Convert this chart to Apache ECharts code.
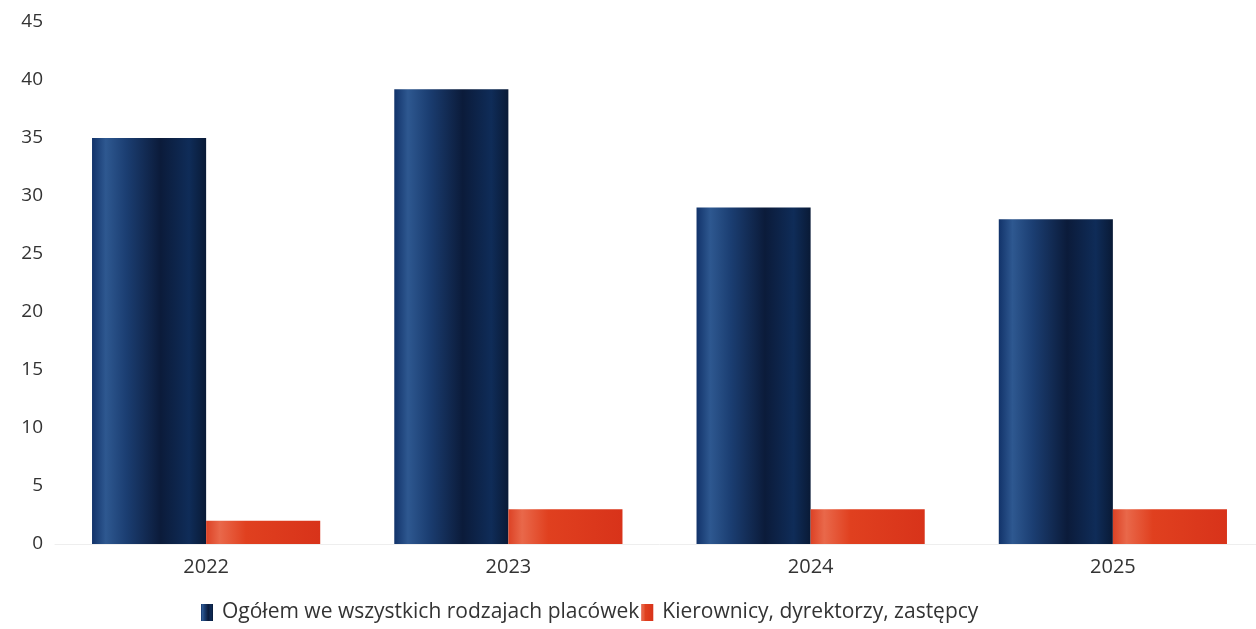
<!DOCTYPE html>
<html><head><meta charset="utf-8">
<script src="https://cdn.jsdelivr.net/npm/echarts@6/dist/echarts.min.js"></script>
<style>html,body{margin:0;padding:0;background:#fff;overflow:hidden}#c{width:1272px;height:629px}</style>
</head><body><div id="c"></div>
<script>
const categories = ['2022', '2023', '2024', '2025'];
const totalName = 'Ogółem we wszystkich rodzajach placówek';
const totalValues = [35, 39.2, 29, 28];
const managersName = 'Kierownicy, dyrektorzy, zastępcy';
const managersValues = [2, 3, 3, 3];
const yTicks = [0, 5, 10, 15, 20, 25, 30, 35, 40, 45];

const blue = new echarts.graphic.LinearGradient(0, 0, 1, 0, [
  {offset: 0, color: '#12336a'},
  {offset: 0.12, color: '#2e5890'},
  {offset: 0.3, color: '#1b3e72'},
  {offset: 0.6, color: '#0b1b3a'},
  {offset: 0.85, color: '#0f2c58'},
  {offset: 1, color: '#091a36'}
]);
const red = new echarts.graphic.LinearGradient(0, 0, 1, 0, [
  {offset: 0, color: '#dc4225'},
  {offset: 0.12, color: '#e9684a'},
  {offset: 0.35, color: '#e0401f'},
  {offset: 1, color: '#d8331a'}
]);

const chart = echarts.init(document.getElementById('c'));
chart.setOption({
  animation: false,
  textStyle: {fontFamily: 'Open Sans'},
  grid: {left: 55, width: 1209, top: 22, bottom: 85, containLabel: false},
  legend: {
    data: [totalName, managersName],
    left: 196, top: 597,
    icon: 'rect',
    itemWidth: 12, itemHeight: 17, itemGap: 2,
    textStyle: {fontSize: 21, color: '#333', fontFamily: 'Open Sans', padding: [0, 0, 0, 4]}
  },
  xAxis: {
    type: 'category', data: categories,
    axisLine: {lineStyle: {color: '#eeeeee'}},
    axisTick: {show: false},
    axisLabel: {fontSize: 20, color: '#333', margin: 13}
  },
  yAxis: {
    type: 'value', min: yTicks[0], max: yTicks[yTicks.length - 1], interval: 5,
    splitLine: {show: false},
    axisLine: {show: false}, axisTick: {show: false},
    axisLabel: {fontSize: 19, color: '#333', margin: 12}
  },
  series: [
    {name: totalName, type: 'bar', data: totalValues, barGap: '0%', barCategoryGap: '24.5%', itemStyle: {color: blue}},
    {name: managersName, type: 'bar', data: managersValues, itemStyle: {color: red}}
  ]
});
</script></body></html>
